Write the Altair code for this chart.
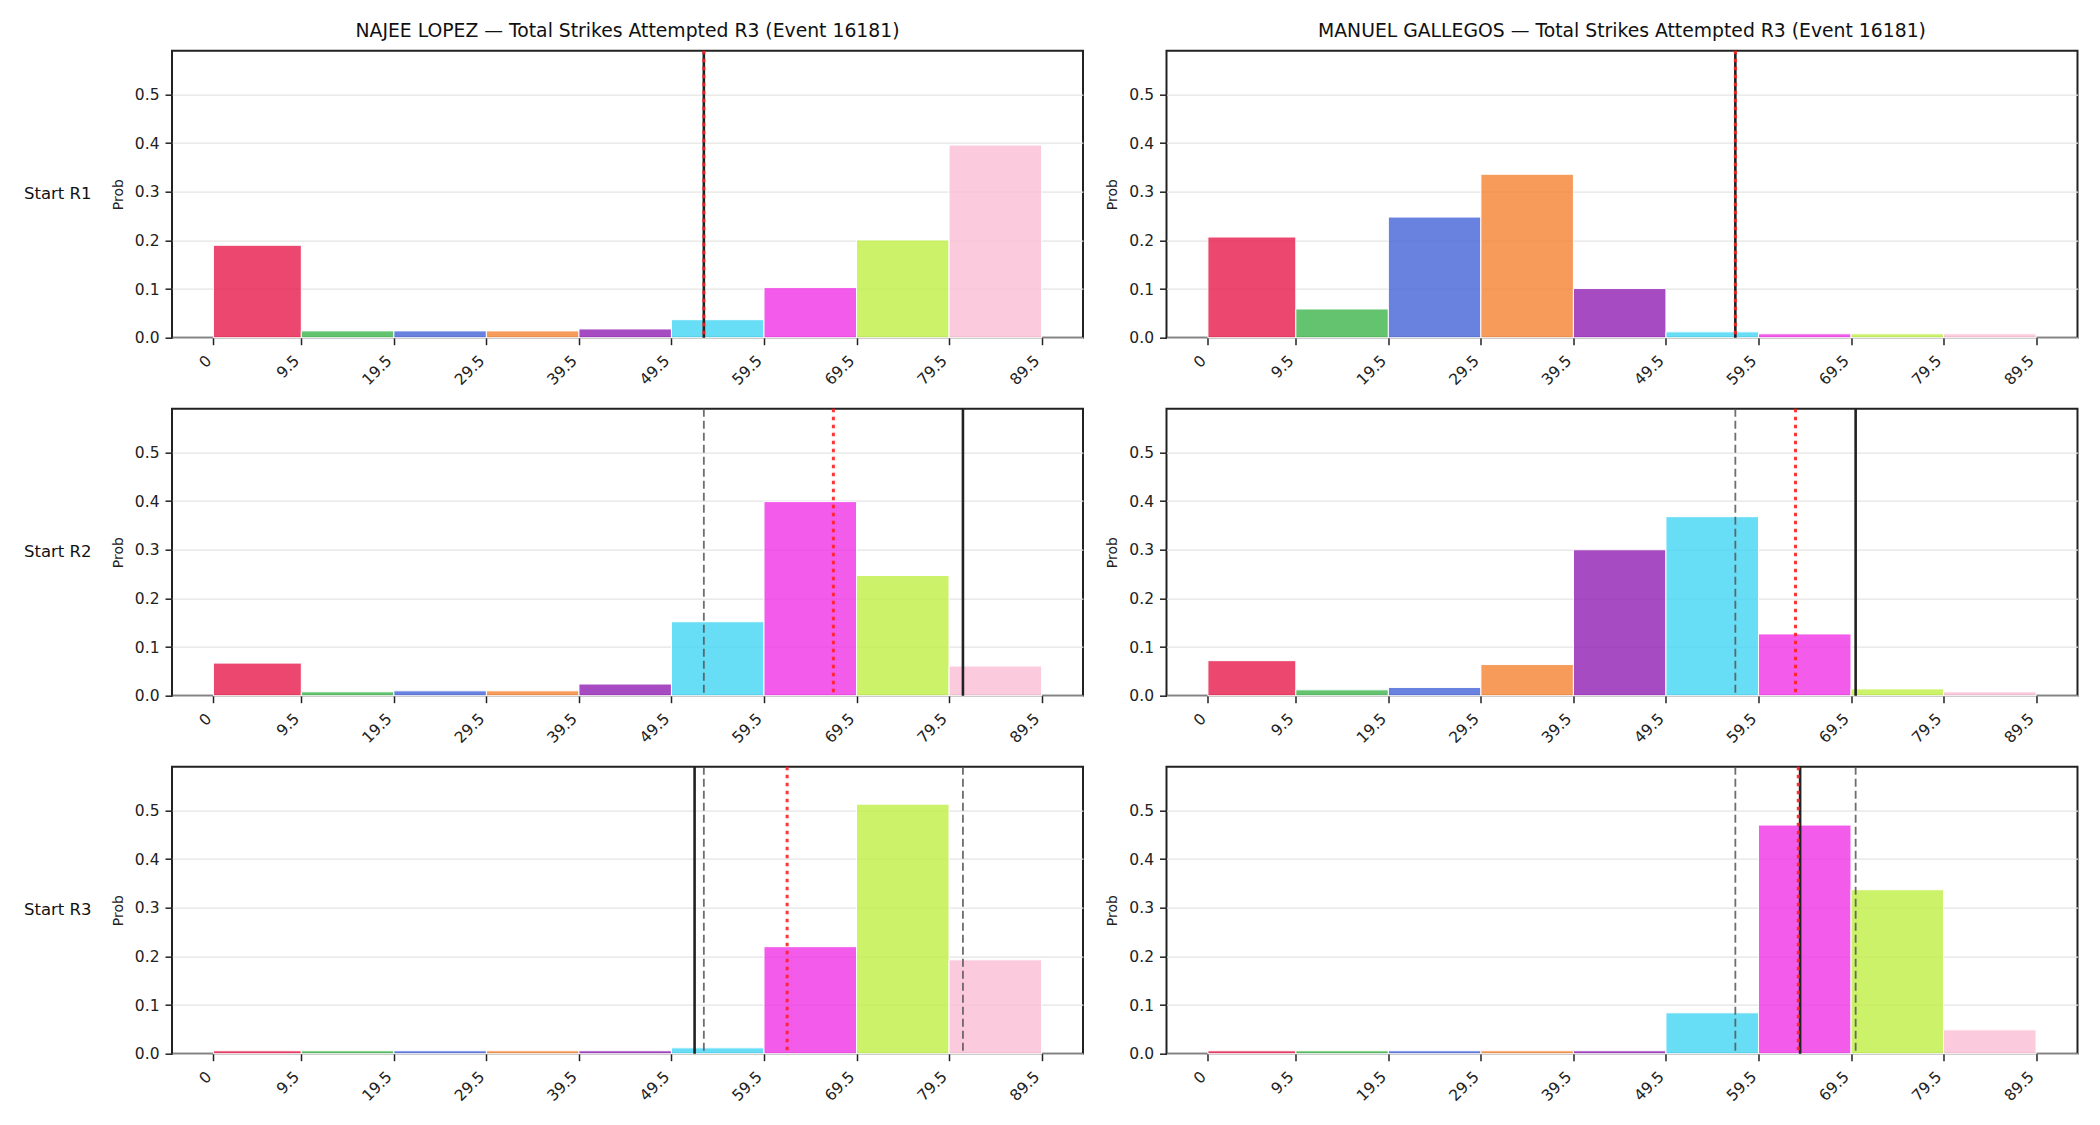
import altair as alt
import pandas as pd

# ---------------- data ----------------
bin_start = [0, 9.5, 19.5, 29.5, 39.5, 49.5, 59.5, 69.5, 79.5]
bin_end = [9.5, 19.5, 29.5, 39.5, 49.5, 59.5, 69.5, 79.5, 89.5]
bin_names = ["b0", "b1", "b2", "b3", "b4", "b5", "b6", "b7", "b8"]
x_ticks = [0, 9.5, 19.5, 29.5, 39.5, 49.5, 59.5, 69.5, 79.5, 89.5]
palette = ["#e6194b", "#3cb44b", "#4363d8", "#f58231", "#911eb4",
           "#42d4f4", "#f032e6", "#bfef45", "#fabed4"]

row_labels = ["Start R1", "Start R2", "Start R3"]
fighters = ["NAJEE LOPEZ", "MANUEL GALLEGOS"]

lopez_probs = [
    [0.190, 0.014, 0.014, 0.014, 0.018, 0.037, 0.103, 0.201, 0.396],
    [0.067, 0.008, 0.010, 0.010, 0.024, 0.152, 0.399, 0.247, 0.061],
    [0.006, 0.006, 0.006, 0.006, 0.006, 0.012, 0.220, 0.513, 0.193],
]
gallegos_probs = [
    [0.207, 0.059, 0.248, 0.336, 0.101, 0.012, 0.008, 0.008, 0.008],
    [0.072, 0.012, 0.017, 0.064, 0.300, 0.368, 0.127, 0.014, 0.008],
    [0.006, 0.006, 0.006, 0.006, 0.006, 0.084, 0.470, 0.337, 0.049],
]
lopez_actual = [53, 81, 52]
lopez_median = [53, 67, 62]
lopez_prev = [[], [53], [53, 81]]
gallegos_actual = [57, 70, 64]
gallegos_median = [57, 63.5, 63.8]
gallegos_prev = [[], [57], [57, 70]]

FONT = "DejaVu Sans"
W, H = 911, 287

xscale = alt.Scale(domain=[-4.475, 93.975], nice=False, zero=False)
yscale = alt.Scale(domain=[0, 0.59], nice=False)
xaxis = alt.Axis(values=x_ticks, labelAngle=-45, labelAlign="right",
                 labelBaseline="top", labelPadding=8, labelOffset=-10, title=None,
                 labelExpr="datum.value == 0 ? '0' : format(datum.value, '.1f')",
                 grid=False)
yaxis = alt.Axis(values=[0, 0.1, 0.2, 0.3, 0.4, 0.5], format=".1f", title="Prob",
                 titleFontSize=14, titleFontWeight="normal", titleFont=FONT,
                 titleColor="#222", titlePadding=9, labelPadding=6, grid=True)


def panel(probs, actual, median, prev, title, row_label):
    df = pd.DataFrame({"start": bin_start, "end": bin_end, "prob": probs, "bin": bin_names})
    bars = alt.Chart(df).mark_rect(stroke="white", strokeWidth=1, fillOpacity=0.8).encode(
        x=alt.X("start:Q", scale=xscale, axis=xaxis),
        x2="end:Q",
        y=alt.Y("prob:Q", scale=yscale, axis=yaxis),
        y2=alt.datum(0),
        color=alt.Color("bin:N", scale=alt.Scale(domain=bin_names, range=palette), legend=None),
    )
    layers = [bars]
    if prev:
        pdf = pd.DataFrame({"start": prev})
        layers.append(alt.Chart(pdf).mark_rule(color="#555", strokeWidth=1.8,
                                               strokeDash=[8, 4], opacity=0.85).encode(
            x=alt.X("start:Q", scale=xscale, axis=xaxis)))
    adf = pd.DataFrame({"start": [actual]})
    layers.append(alt.Chart(adf).mark_rule(color="#222", strokeWidth=2.6).encode(
        x=alt.X("start:Q", scale=xscale, axis=xaxis)))
    mdf = pd.DataFrame({"start": [median]})
    layers.append(alt.Chart(mdf).mark_rule(color="#ff2020", strokeWidth=3,
                                           strokeDash=[3.5, 4.5], opacity=0.9).encode(
        x=alt.X("start:Q", scale=xscale, axis=xaxis)))
    if row_label:
        tdf = pd.DataFrame({"t": [row_label]})
        layers.append(alt.Chart(tdf).mark_text(align="left", baseline="middle", fontSize=16.5,
                                               font=FONT, color="#111").encode(
            text="t:N", x=alt.value(-148), y=alt.value(H / 2)))
    props = dict(width=W, height=H)
    if title:
        props["title"] = alt.TitleParams(title, fontSize=18.8, font=FONT, fontWeight="normal",
                                         color="#111", offset=8.6, anchor="middle")
    return alt.layer(*layers).properties(**props)


panels = []
for r in range(3):
    t_l = f"{fighters[0]} — Total Strikes Attempted R3 (Event 16181)" if r == 0 else None
    t_r = f"{fighters[1]} — Total Strikes Attempted R3 (Event 16181)" if r == 0 else None
    panels.append(panel(lopez_probs[r], lopez_actual[r], lopez_median[r], lopez_prev[r],
                        t_l, row_labels[r]))
    panels.append(panel(gallegos_probs[r], gallegos_actual[r], gallegos_median[r],
                        gallegos_prev[r], t_r, None))

chart = alt.concat(*panels, columns=2, spacing={"row": 71, "column": 83.5},
                   bounds="flush").properties(
    padding={"left": 23, "top": 20.7, "right": 5, "bottom": 5},
    background="white",
).configure_view(
    stroke="#222", strokeWidth=2
).configure_axis(
    domain=False, tickColor="#222", tickWidth=1.5, tickSize=7,
    labelFont=FONT, labelFontSize=15.5, labelColor="#222",
    gridColor="#e4e4e4", gridWidth=1.2,
)

chart.save("out.html", embed_options={"renderer": "svg", "actions": False})
